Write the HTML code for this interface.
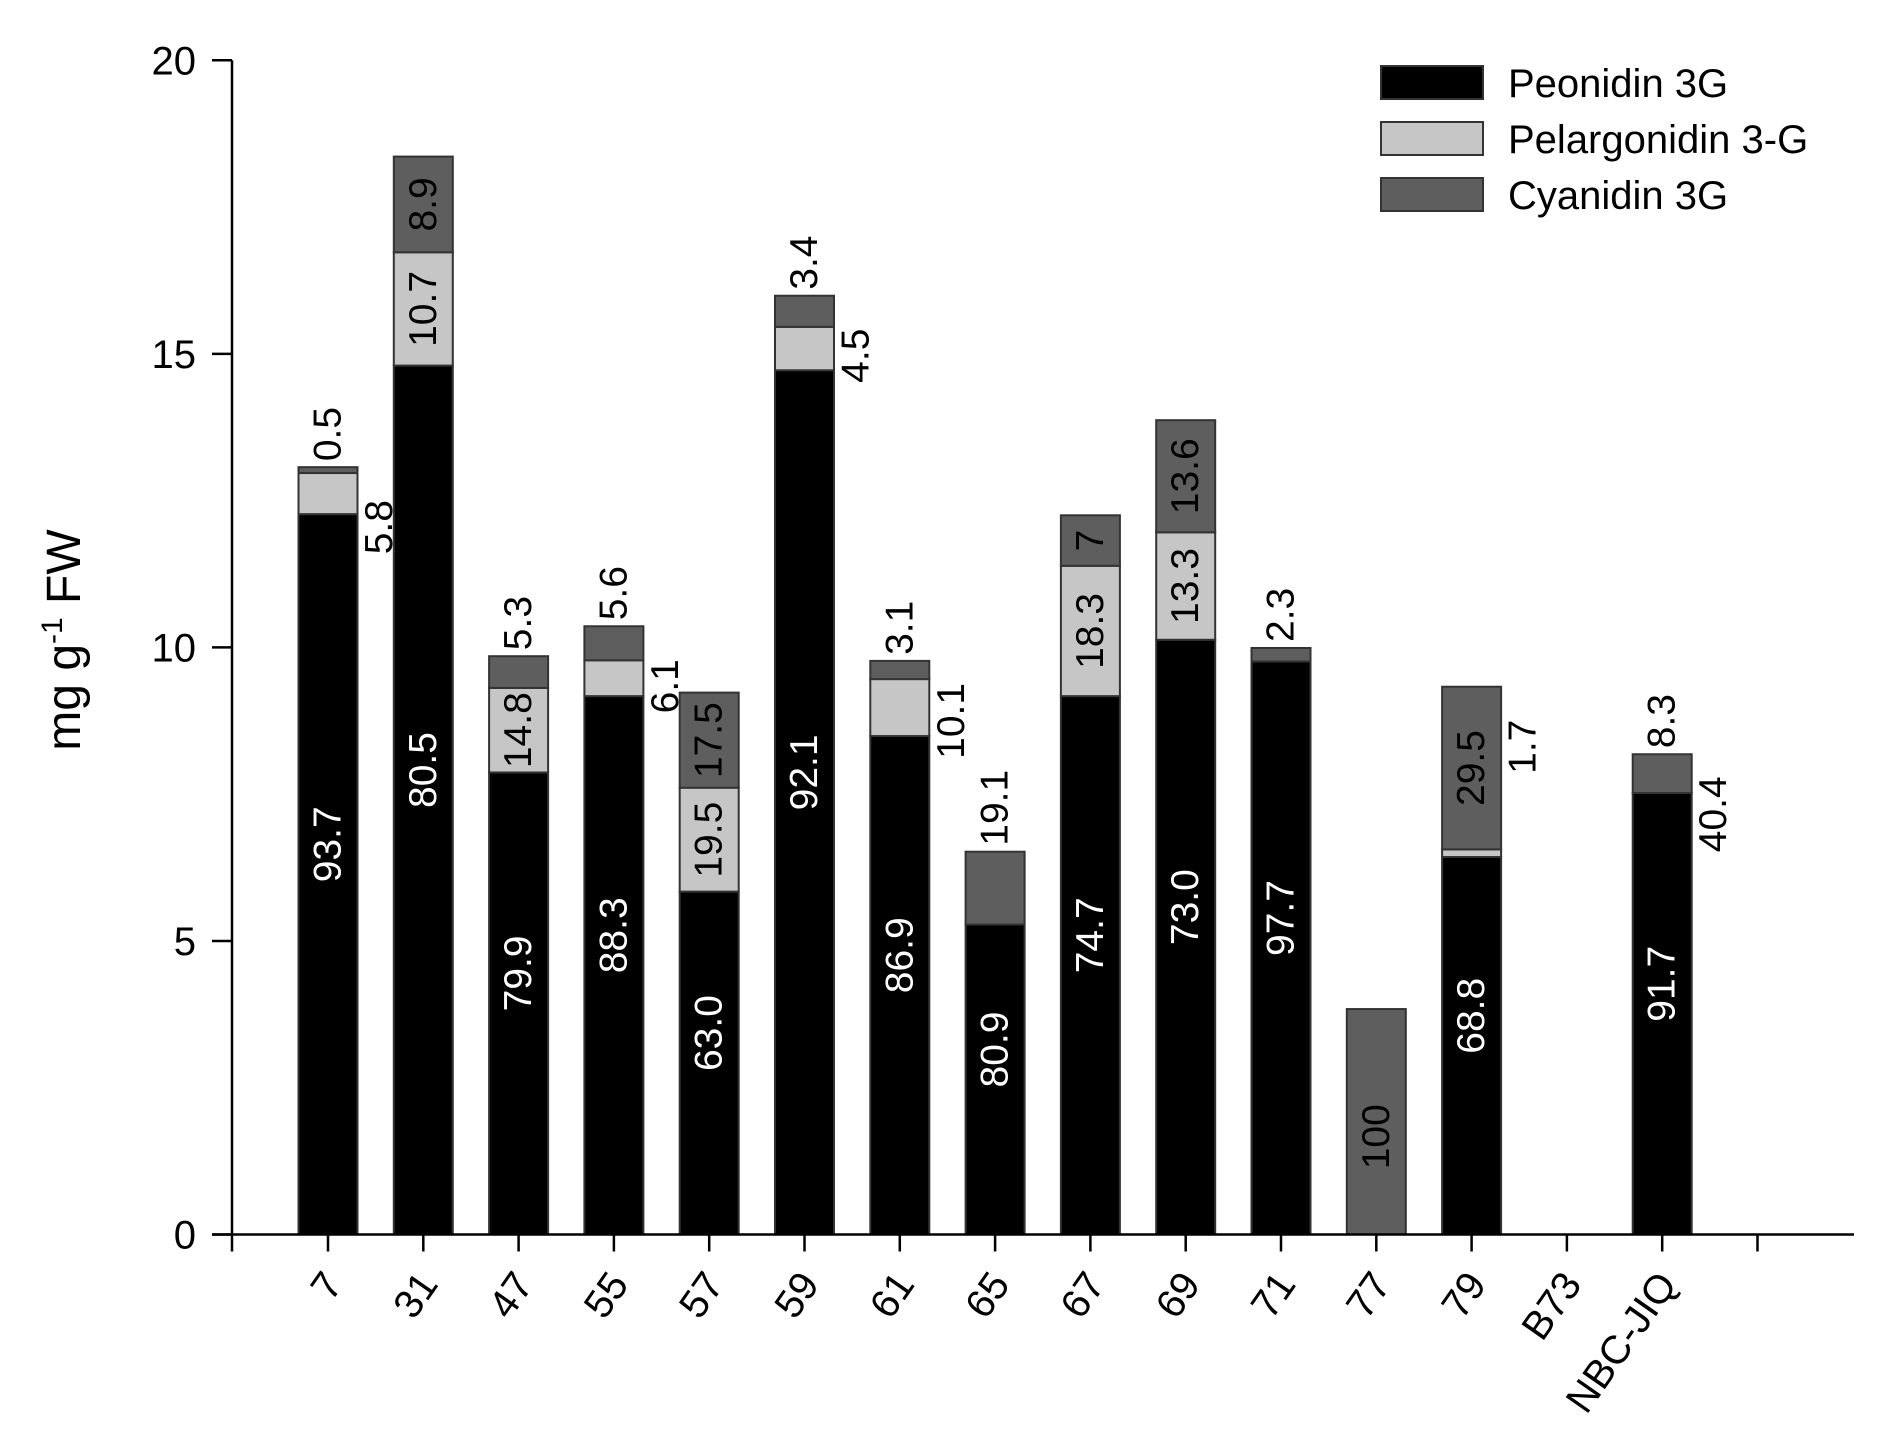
<!DOCTYPE html>
<html><head><meta charset="utf-8"><style>
html,body{margin:0;padding:0;background:#fff;}
svg text{font-family:"Liberation Sans",Arial,sans-serif;}
</style></head><body>
<svg id="chart" xmlns="http://www.w3.org/2000/svg" width="1884" height="1448" viewBox="0 0 1884 1448">
<rect width="1884" height="1448" fill="#fff"/>
<g id="bars"></g>
<g id="axes"></g>
<text transform="translate(80,640) rotate(-90)" text-anchor="middle" font-size="48">mg g<tspan dy="-18" font-size="30">-1</tspan><tspan dy="18"> FW</tspan></text>
<g>
<rect x="1381" y="66" width="102" height="33" fill="#000" stroke="#333" stroke-width="2"/>
<text x="1508" y="97" font-size="40">Peonidin 3G</text>
<rect x="1381" y="122" width="102" height="33" fill="#c6c6c6" stroke="#333" stroke-width="2"/>
<text x="1508" y="153" font-size="40">Pelargonidin 3-G</text>
<rect x="1381" y="178" width="102" height="33" fill="#5e5e5e" stroke="#333" stroke-width="2"/>
<text x="1508" y="209" font-size="40">Cyanidin 3G</text>
</g>
</svg>
<script>
const categories = ["7","31","47","55","57","59","61","65","67","69","71","77","79","B73","NBC-JIQ"];
const peonidin = [12.27,14.80,7.87,9.17,5.84,14.72,8.49,5.28,9.17,10.13,9.76,0,6.43,0,7.52];
const pelargonidin = [0.70,1.93,1.44,0.61,1.77,0.74,0.97,0,2.22,1.83,0,0,0.13,0,0];
const cyanidin = [0.10,1.63,0.54,0.58,1.62,0.53,0.31,1.24,0.86,1.91,0.23,3.84,2.77,0,0.66];
const peoLabels = ["93.7","80.5","79.9","88.3","63.0","92.1","86.9","80.9","74.7","73.0","97.7","","68.8","","91.7"];
const pelLabels = ["5.8","10.7","14.8","6.1","19.5","4.5","10.1","","18.3","13.3","","","1.7","","40.4"];
const cyLabels = ["0.5","8.9","5.3","5.6","17.5","3.4","3.1","19.1","7","13.6","2.3","100","29.5","","8.3"];
const yTicks = [0,5,10,15,20];

const NS="http://www.w3.org/2000/svg";
const x0=232, xEnd=1854, y0=1234.5, yTop=60.3;
const c0=328, step=95.3, bw=59;
function yS(v){return y0-(v/20)*(y0-yTop);}
function xS(i){return c0+i*step;}
function mk(tag,attrs,parent){const e=document.createElementNS(NS,tag);for(const k in attrs)e.setAttribute(k,attrs[k]);parent.appendChild(e);return e;}
const bars=document.getElementById('bars'), axes=document.getElementById('axes');

function rotText(txt,cx,cy,fill,parent,anchor){
  const t=mk('text',{transform:`translate(${cx},${cy}) rotate(-90)`,'text-anchor':anchor||'middle','dominant-baseline':'central','font-size':39,fill:fill},parent);
  t.textContent=txt;
  
  
  return t;
}

categories.forEach((c,i)=>{
  const cx=xS(i), l=cx-bw/2;
  const segs=[[peonidin[i],'#000','peonidin'],[pelargonidin[i],'#c6c6c6','pelargonidin'],[cyanidin[i],'#5e5e5e','cyanidin']];
  let base=0;
  segs.forEach(s=>{
    if(s[0]>0){
      const r=mk('rect',{x:l,y:yS(base+s[0]),width:bw,height:yS(base)-yS(base+s[0]),fill:s[1],stroke:'#333','stroke-width':2},bars);
      
      
    }
    base+=s[0];
  });
  const total=base;
  if(total>0){
    const topY=yS(total);
    if(peoLabels[i]) rotText(peoLabels[i],cx,(yS(0)+yS(peonidin[i]))/2-30,'#fff',bars);
    if(pelLabels[i]){
      if(pelargonidin[i]>=1.2) rotText(pelLabels[i],cx,(yS(peonidin[i])+yS(peonidin[i]+pelargonidin[i]))/2,'#000',bars);
      else rotText(pelLabels[i],cx+bw/2+22,topY+60,'#000',bars);
    }
    if(cyLabels[i]){
      const p=peonidin[i]+pelargonidin[i];
      if(cyanidin[i]>=0.8 && pelargonidin[i]>0) rotText(cyLabels[i],cx,(yS(p)+yS(total))/2,'#000',bars);
      else if(cyanidin[i]>=3) rotText(cyLabels[i],cx,(yS(p)+yS(total))/2+15,'#000',bars);
      else rotText(cyLabels[i],cx,topY-6,'#000',bars,'start');
    }
  }
  const tk=mk('line',{x1:cx,x2:cx,y1:y0,y2:y0+17,stroke:'#000','stroke-width':2.5},axes);
  
  
  const lb=mk('text',{transform:`translate(${cx+16},${y0+50}) rotate(-55)`,'text-anchor':'end','font-size':40},axes);
  lb.textContent=c;
  
  
});
[x0, xS(categories.length)].forEach(x=>{
  const tk=mk('line',{x1:x,x2:x,y1:y0,y2:y0+17,stroke:'#000','stroke-width':2.5},axes);
  
  
});
const xa=mk('line',{x1:x0-20,x2:xEnd,y1:y0,y2:y0,stroke:'#000','stroke-width':2.5},axes);


const ya=mk('line',{x1:x0,x2:x0,y1:yTop,y2:y0,stroke:'#000','stroke-width':2.5},axes);


yTicks.forEach(v=>{
  const y=yS(v);
  const tk=mk('line',{x1:x0-20,x2:x0,y1:y,y2:y,stroke:'#000','stroke-width':2.5},axes);
  
  
  const t=mk('text',{x:x0-36,y:y+14,'text-anchor':'end','font-size':40},axes);
  t.textContent=v;
  
  
});
</script>
</body></html>
